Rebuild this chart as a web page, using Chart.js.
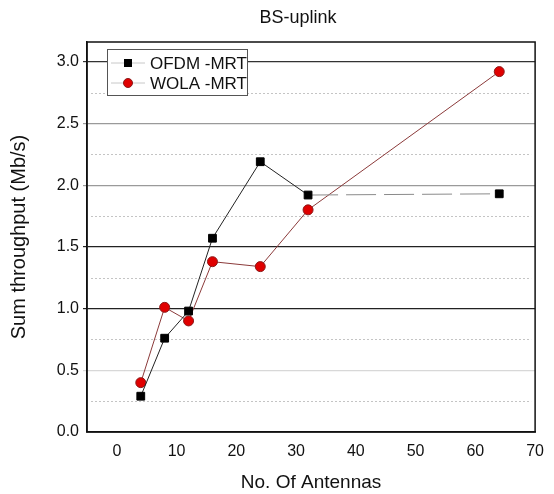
<!DOCTYPE html>
<html lang="en">
<head>
    <meta charset="UTF-8">
    <title>BS-uplink</title>
    <script src="https://cdn.jsdelivr.net/npm/chart.js"></script>
    <style>
        html, body { margin: 0; padding: 0; background: #fff; }
        #wrap { width: 554px; height: 494px; }
    </style>
</head>
<body>
    <div id="wrap"><canvas id="chart" width="554" height="494"></canvas></div>

    <script>
        // Data
        const antennas = [4, 8, 12, 16, 24, 32, 64];
        const ofdmMrt = [0.29, 0.76, 0.98, 1.57, 2.19, 1.92, 1.93];
        const wolaMrt = [0.40, 1.01, 0.90, 1.38, 1.34, 1.80, 2.92];
        const seriesNames = ['OFDM -MRT', 'WOLA -MRT'];
        const xTicks = [0, 10, 20, 30, 40, 50, 60, 70];
        const yTicks = [0, 0.5, 1.0, 1.5, 2.0, 2.5, 3.0];
        const yMinorTicks = [0.25, 0.75, 1.25, 1.75, 2.25, 2.75];

        const font = 'Liberation Sans, Arial, sans-serif';

        function toPoints(ys) {
            return antennas.map((x, i) => ({ x: x, y: ys[i] }));
        }

        // shades of the solid grid lines, as they appear in the scan
        function gridShade(v) {
            if (v === 0.5) return '#d8d8d8';
            if (v === 1 || v === 1.5) return '#222';
            if (v === 2 || v === 2.5) return '#9a9a9a';
            if (v === 3) return '#333';
            return 'rgba(0,0,0,0)';
        }

        // dotted minor lines, title and boxed legend
        const extras = {
            id: 'extras',
            beforeDatasetsDraw(chart) {
                const { ctx, chartArea: a, scales } = chart;
                ctx.save();
                ctx.strokeStyle = '#c4c4c4';
                ctx.lineWidth = 1;
                ctx.setLineDash([2, 2]);
                yMinorTicks.forEach(v => {
                    const y = Math.round(scales.y.getPixelForValue(v)) + 0.5;
                    ctx.beginPath();
                    ctx.moveTo(a.left + 4, y);
                    ctx.lineTo(a.right - 4, y);
                    ctx.stroke();
                });
                ctx.restore();
            },
            afterDraw(chart) {
                const { ctx } = chart;
                ctx.save();
                // title
                ctx.fillStyle = '#111';
                ctx.font = '18px ' + font;
                ctx.textAlign = 'center';
                ctx.textBaseline = 'middle';
                ctx.fillText('BS-uplink', 298, 18);

                // legend box
                const bx = 107, by = 49, bw = 140, bh = 46;
                ctx.fillStyle = '#fff';
                ctx.fillRect(bx, by, bw, bh);
                ctx.strokeStyle = '#555';
                ctx.lineWidth = 1;
                ctx.strokeRect(bx + 0.5, by + 0.5, bw, bh);

                chart.data.datasets.forEach((ds, i) => {
                    const cy = by + 14 + i * 20;
                    ctx.strokeStyle = '#c8c8c8';
                    ctx.beginPath();
                    ctx.moveTo(bx + 4, cy);
                    ctx.lineTo(bx + 38, cy);
                    ctx.stroke();
                    const mx = bx + 21;
                    ctx.fillStyle = ds.pointBackgroundColor;
                    ctx.strokeStyle = ds.pointBorderColor;
                    if (ds.pointStyle === 'rect') {
                        ctx.fillRect(mx - 4, cy - 4, 8, 8);
                    } else {
                        ctx.beginPath();
                        ctx.arc(mx, cy, 4.5, 0, Math.PI * 2);
                        ctx.fill();
                        ctx.stroke();
                    }
                    ctx.fillStyle = '#111';
                    ctx.font = '17px ' + font;
                    ctx.textAlign = 'left';
                    ctx.fillText(ds.label, bx + 43, cy + 1);
                });
                ctx.restore();
            }
        };

        new Chart(document.getElementById('chart').getContext('2d'), {
            type: 'line',
            data: {
                datasets: [{
                    label: seriesNames[0],
                    data: toPoints(ofdmMrt),
                    borderColor: '#222',
                    borderWidth: 1,
                    pointStyle: 'rect',
                    pointRadius: 5.5,
                    pointBackgroundColor: '#000',
                    pointBorderColor: '#000',
                    segment: {
                        // long last segment looks faded in the scan
                        borderColor: c => c.p1DataIndex === antennas.length - 1 ? '#8a8a8a' : undefined,
                        borderDash: c => c.p1DataIndex === antennas.length - 1 ? [30, 8] : undefined
                    }
                }, {
                    label: seriesNames[1],
                    data: toPoints(wolaMrt),
                    borderColor: '#8b3a3a',
                    borderWidth: 1,
                    pointStyle: 'circle',
                    pointRadius: 5,
                    pointBorderWidth: 1,
                    pointBackgroundColor: '#e00000',
                    pointBorderColor: '#8b1a1a'
                }]
            },
            options: {
                responsive: false,
                animation: false,
                layout: { padding: { top: 42, right: 7, left: 0, bottom: 0 } },
                plugins: {
                    legend: { display: false },
                    title: { display: false },
                    tooltip: { enabled: false }
                },
                scales: {
                    x: {
                        type: 'linear',
                        min: -5,
                        max: 70,
                        afterBuildTicks: s => { s.ticks = xTicks.map(v => ({ value: v })); },
                        afterFit: s => { s.height = 62; },
                        grid: { display: false, drawTicks: false },
                        border: { display: true, color: '#111', width: 1.5 },
                        ticks: {
                            padding: 10,
                            color: '#111',
                            font: { family: font, size: 16 },
                            maxRotation: 0
                        },
                        title: {
                            display: true,
                            text: 'No. Of Antennas',
                            color: '#111',
                            font: { family: font, size: 19 },
                            padding: { top: 4, bottom: 0 }
                        }
                    },
                    y: {
                        min: 0,
                        max: 3.16,
                        afterBuildTicks: s => { s.ticks = yTicks.map(v => ({ value: v })); },
                        afterFit: s => { s.width = 87; },
                        grid: {
                            color: c => gridShade(c.tick ? c.tick.value : null),
                            lineWidth: 1.2,
                            drawTicks: true,
                            tickLength: 4
                        },
                        border: { display: true, color: '#111', width: 1.5 },
                        ticks: {
                            padding: 4,
                            color: '#111',
                            font: { family: font, size: 16 },
                            callback: v => v.toFixed(1)
                        },
                        title: {
                            display: true,
                            text: 'Sum throughput (Mb/s)',
                            color: '#111',
                            font: { family: font, size: 20 },
                            padding: { top: 7, bottom: 0 }
                        }
                    }
                }
            },
            plugins: [extras, {
                id: 'frame',
                afterDatasetsDraw(chart) {
                    const { ctx, chartArea: a } = chart;
                    ctx.save();
                    ctx.strokeStyle = '#111';
                    ctx.lineWidth = 1.5;
                    ctx.strokeRect(a.left, a.top, a.right - a.left, a.bottom - a.top);
                    ctx.restore();
                }
            }]
        });
    </script>
</body>
</html>
